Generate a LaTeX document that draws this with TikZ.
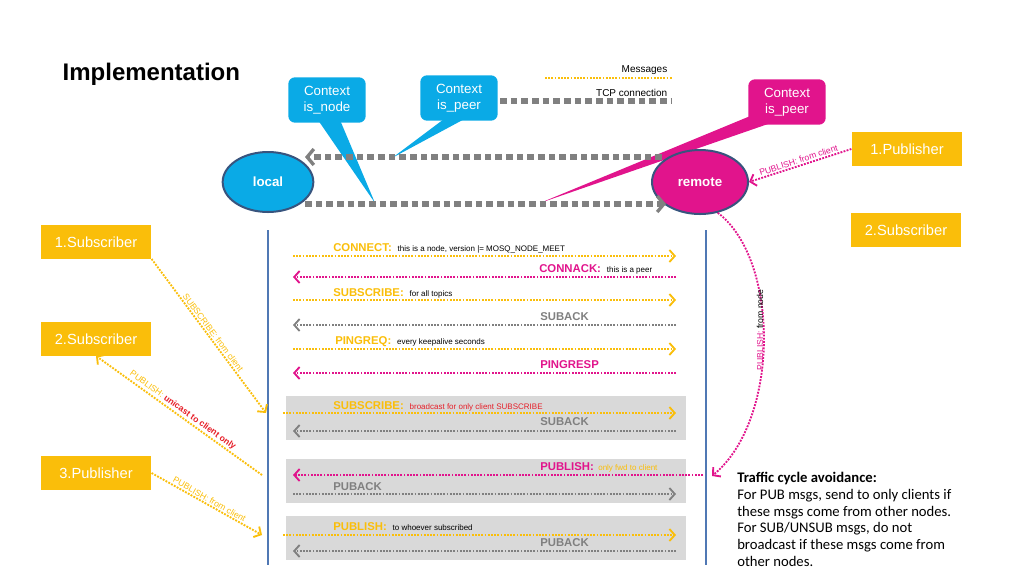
\documentclass[tikz,border=0pt]{standalone}
\usepackage{fontspec}
\setmainfont{Liberation Sans}
\setsansfont{Liberation Sans}
\newfontfamily\calib{Carlito}
\usetikzlibrary{arrows,arrows.meta,shapes.geometric,positioning}
\definecolor{myyel}{RGB}{250,190,10}
\definecolor{mymag}{RGB}{225,20,140}
\definecolor{mycyan}{RGB}{10,170,230}
\definecolor{mygray}{RGB}{128,128,128}
\definecolor{myband}{RGB}{217,217,217}
\definecolor{myblue}{RGB}{80,120,180}
\definecolor{myred}{RGB}{230,30,40}
\begin{document}
\begin{tikzpicture}[x=0.75pt,y=-0.75pt,font=\sffamily,
	msg/.style={densely dotted,line width=1.4pt,-{Straight Barb[length=4pt,width=9pt,line width=1.4pt]}},
	tcp/.style={dash pattern=on 5pt off 3pt,line width=4pt,draw=mygray,-{Straight Barb[length=5pt,width=12pt,line width=2.5pt]}},
	box/.style={fill=myyel,text=white,font=\fontsize{11}{13}\selectfont,minimum width=83pt,minimum height=25pt,inner sep=0pt},
	call/.style={rounded corners=5pt,text=white,align=center,font=\fontsize{10}{12}\selectfont,minimum width=58pt,minimum height=34pt,inner sep=0pt},
	lbl/.style={font=\bfseries\fontsize{8.5}{10}\selectfont,anchor=base west,inner sep=0pt},
	sml/.style={font=\fontsize{6}{7}\selectfont,anchor=base west,inner sep=0pt},
	dia/.style={font=\fontsize{6.5}{7}\selectfont,inner sep=1pt}]
\useasboundingbox (0,0) rectangle (1024,576);
\node[anchor=base west,font=\bfseries\fontsize{18}{20}\selectfont] (title) at (58,80) {Implementation};

% legend
\node[anchor=base east,font=\fontsize{7.5}{9}\selectfont] (lgm) at (672,72) {Messages};
\node[anchor=base east,font=\fontsize{7.5}{9}\selectfont] (lgt) at (672,96) {TCP connection};
\draw[densely dotted,line width=1.4pt,myyel] (545,78) -- (672,78);
\draw[dash pattern=on 5pt off 3pt,line width=4pt,mygray] (500,101) -- (672,101);

% grey bands
\fill[myband] (286,396) rectangle (686,440);
\fill[myband] (286,459) rectangle (686,503);
\fill[myband] (286,516) rectangle (686,560);

% callouts
\fill[mycyan] (318,120) -- (375,203) -- (340,120) -- cycle;
\fill[mycyan] (448,116) -- (392,158) -- (470,116) -- cycle;
\fill[mymag] (760,112) -- (540,203) -- (768,124) -- cycle;
\node[call,fill=mycyan] (cnode) at (327,100) {Context\\is\_node};
\node[call,fill=mycyan] (cpeer) at (459,98) {Context\\is\_peer};
\node[call,fill=mymag] (rpeer) at (787,102) {Context\\is\_peer};

% hosts
\node[ellipse,fill=mycyan,draw=myblue!70!black,line width=1.5pt,minimum width=68pt,minimum height=45pt,text=white,font=\bfseries\fontsize{10}{12}\selectfont] (local) at (268,182) {local};
\node[ellipse,fill=mymag,draw=myblue!70!black,line width=1.5pt,minimum width=72pt,minimum height=48pt,text=white,font=\bfseries\fontsize{10}{12}\selectfont] (remote) at (700,182) {remote};
\coordinate (tcpa) at (662,157); \coordinate (tcpb) at (305,157);
\coordinate (tcpc) at (305,204); \coordinate (tcpd) at (666,204);
\draw[tcp] (tcpa) -- (tcpb);
\draw[tcp] (tcpc) -- (tcpd);

% clients
\node[box] (pub1) at (907,149) {1.Publisher};
\node[box] (sub2r) at (906,230) {2.Subscriber};
\node[box] (sub1) at (96,242) {1.Subscriber};
\node[box] (sub2) at (96,339) {2.Subscriber};
\node[box] (pub3) at (96,473) {3.Publisher};

% life lines
\coordinate (la) at (268,230); \coordinate (lb) at (268,565);
\coordinate (ra) at (706,230); \coordinate (rb) at (706,565);
\draw[myblue,line width=2pt] (la) -- (lb);
\draw[myblue,line width=2pt] (ra) -- (rb);

% messages
\foreach \y/\c/\d [count=\i] in {256/myyel/r,277/mymag/l,300/myyel/r,325/mygray/l,349/myyel/r,373/mymag/l,431/mygray/l,494/mygray/r,551/mygray/l}{
	\coordinate (ma\i) at (293,\y); \coordinate (mb\i) at (676,\y);
	\if\d r\draw[msg,\c] (ma\i) -- (mb\i);\else\draw[msg,\c] (mb\i) -- (ma\i);\fi
}
\coordinate (sa) at (283,413); \coordinate (sb) at (676,413);
\draw[msg,myyel] (sa) -- (sb);
\coordinate (pa) at (703,475); \coordinate (pb) at (293,475);
\draw[msg,mymag] (pa) -- (pb);
\coordinate (qa) at (283,535); \coordinate (qb) at (676,535);
\draw[msg,myyel] (qa) -- (qb);

\node[lbl,text=myyel] (t1) at (333,251) {CONNECT:};
\node[sml,right=4pt of t1.base east,anchor=base west] {this is a node, version |= MOSQ\_NODE\_MEET};
\node[lbl,text=mymag] (t2) at (539,272) {CONNACK:};
\node[sml,right=4pt of t2.base east,anchor=base west] {this is a peer};
\node[lbl,text=myyel] (t3) at (333,296) {SUBSCRIBE:};
\node[sml,right=4pt of t3.base east,anchor=base west] {for all topics};
\node[lbl,text=mygray] (t4) at (540,320) {SUBACK};
\node[lbl,text=myyel] (t5) at (335,344) {PINGREQ:};
\node[sml,right=4pt of t5.base east,anchor=base west] {every keepalive seconds};
\node[lbl,text=mymag] (t6) at (540,368) {PINGRESP};
\node[lbl,text=myyel] (t7) at (333,409) {SUBSCRIBE:};
\node[sml,text=myred,right=4pt of t7.base east,anchor=base west] {broadcast for only client SUBSCRIBE};
\node[lbl,text=mygray] (t8) at (540,425) {SUBACK};
\node[lbl,text=mymag] (t9) at (540,470) {PUBLISH:};
\node[sml,text=myyel,right=3pt of t9.base east,anchor=base west] {only fwd to client};
\node[lbl,text=mygray] (t10) at (333,490) {PUBACK};
\node[lbl,text=myyel] (t11) at (333,530) {PUBLISH:};
\node[sml,right=4pt of t11.base east,anchor=base west] {to whoever subscribed};
\node[lbl,text=mygray] (t12) at (540,546) {PUBACK};

% client links
\coordinate (d1) at (266,413);
\draw[msg,myyel] (sub1.south east) -- node[sloped,above,dia] {\textcolor{myyel}{SUBSCRIBE:} from client} (d1);
\coordinate (d2) at (262,475);
\draw[msg,myyel] (d2) -- node[sloped,above,dia] {\textcolor{myyel}{PUBLISH:} \textcolor{myred}{\bfseries unicast to client only}} (sub2.south);
\coordinate (d3) at (262,535);
\draw[msg,myyel] (pub3.east) -- node[sloped,above,dia] {\textcolor{myyel}{PUBLISH:} from client} (d3);
\draw[msg,mymag] (pub1.west) -- node[sloped,above,dia] {\textcolor{mymag}{PUBLISH:} from client} (remote.east);
\coordinate (d4) at (712,476);
\draw[msg,mymag] (remote.-60) .. controls (780,260) and (780,420) .. (d4);
\node[dia,rotate=90] (pnode) at (760,330) {\textcolor{mymag}{PUBLISH:} from node};

% note
\node[anchor=north west,align=left,font=\calib\fontsize{11}{12.6}\selectfont,inner sep=0pt] (note) at (737,472) {\textbf{Traffic cycle avoidance:}\\For PUB msgs, send to only clients if\\these msgs come from other nodes.\\For SUB/UNSUB msgs, do not\\broadcast if these msgs come from\\other nodes.};
\end{tikzpicture}
\end{document}
